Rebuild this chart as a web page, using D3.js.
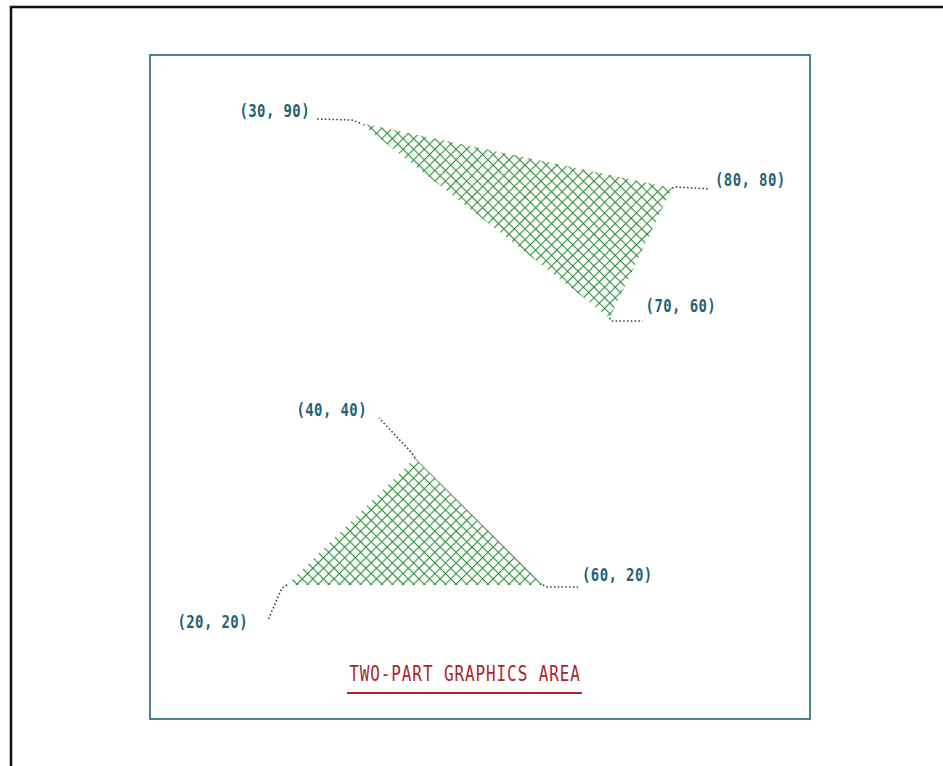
<!DOCTYPE html>
<html>
<head>
<meta charset="utf-8">
<script src="https://cdn.jsdelivr.net/npm/d3@7"></script>
<style>
body{margin:0;background:#fff;}
svg{display:block;}
</style>
</head>
<body>
<svg width="943" height="766"></svg>
<script>
// upper polygon vertices
var topX = [30, 80, 70];
var topY = [90, 80, 60];
// lower polygon vertices
var botX = [40, 60, 20];
var botY = [40, 20, 20];
var title = "TWO-PART GRAPHICS AREA";

var svg = d3.select("svg");
var teal = "#1f6274";
var green = "#2f8f3a";

// two viewports, one per part
var xTop = d3.scaleLinear().domain([30, 80]).range([360, 672]);
var yTop = d3.scaleLinear().domain([60, 90]).range([318, 123]);
var xBot = d3.scaleLinear().domain([20, 60]).range([287, 543]);
var yBot = d3.scaleLinear().domain([20, 40]).range([585, 458]);

// outer frame (runs off the page right and bottom)
svg.append("path")
	.attr("d", "M11,780 L11,7 L960,7")
	.attr("fill", "none")
	.attr("stroke", "#111")
	.attr("stroke-width", 2.5);

// inner frame
svg.append("rect")
	.attr("x", 150).attr("y", 55)
	.attr("width", 660).attr("height", 664)
	.attr("fill", "none")
	.attr("stroke", teal)
	.attr("stroke-width", 1.6);

// crosshatch
var pat = svg.append("defs").append("pattern")
	.attr("id", "hatch")
	.attr("patternUnits", "userSpaceOnUse")
	.attr("width", 7.5).attr("height", 7.5)
	.attr("patternTransform", "rotate(45)");
pat.append("line").attr("x1", 0).attr("y1", 0).attr("x2", 7.5).attr("y2", 0)
	.attr("stroke", green).attr("stroke-width", 2.2);
pat.append("line").attr("x1", 0).attr("y1", 0).attr("x2", 0).attr("y2", 7.5)
	.attr("stroke", green).attr("stroke-width", 2.2);

function polygon(xs, ys, sx, sy){
	var pts = xs.map(function(x, i){ return [sx(x), sy(ys[i])]; });
	svg.append("path")
		.attr("d", d3.line()(pts) + "Z")
		.attr("fill", "url(#hatch)")
		.attr("stroke", "none");
	return pts;
}
var pTop = polygon(topX, topY, xTop, yTop);
var pBot = polygon(botX, botY, xBot, yBot);

// leader lines (pixel offsets from vertex) and label anchors
var topLead = [
	[[0, 0], [-8, -3], [-44, -4]],
	[[0, 0], [5, -1], [38, 1]],
	[[0, 0], [2, 3], [33, 3]]
];
var topLab = [[-50, -12, "end"], [43, -8, "start"], [36, -12, "start"]];
var botLead = [
	[[0, 0], [-3, -5], [-36, -40]],
	[[0, 0], [4, 2], [35, 2]],
	[[0, 0], [-5, 3], [-19, 35]]
];
var botLab = [[-48, -48, "end"], [39, -10, "start"], [-39, 37, "end"]];

function labels(pts, xs, ys, lead, lab){
	pts.forEach(function(p, i){
		svg.append("path")
			.attr("d", d3.line()(lead[i].map(function(o){ return [p[0] + o[0], p[1] + o[1]]; })))
			.attr("fill", "none")
			.attr("stroke", "#333")
			.attr("stroke-width", 1.5)
			.attr("stroke-dasharray", "1.5,2.3");
		var tx = p[0] + lab[i][0], ty = p[1] + lab[i][1];
		svg.append("text")
			.attr("transform", "translate(" + tx + "," + ty + ") scale(1,1.25)")
			.attr("text-anchor", lab[i][2])
			.attr("dominant-baseline", "central")
			.attr("font-family", "DejaVu Sans Mono, monospace")
			.attr("font-size", 14)
			.attr("font-weight", "bold")
			.attr("letter-spacing", 0.4)
			.attr("fill", teal)
			.text("(" + xs[i] + ", " + ys[i] + ")");
	});
}
labels(pTop, topX, topY, topLead, topLab);
labels(pBot, botX, botY, botLead, botLab);

// title + underline
svg.append("text")
	.attr("transform", "translate(465,674) scale(1,1.3)")
	.attr("text-anchor", "middle")
	.attr("dominant-baseline", "central")
	.attr("font-family", "DejaVu Sans Mono, monospace")
	.attr("font-size", 16)
	.attr("letter-spacing", 0.9)
	.attr("fill", "#a8272b")
	.text(title);
svg.append("line")
	.attr("x1", 347).attr("x2", 582)
	.attr("y1", 693).attr("y2", 693)
	.attr("stroke", "#a8272b")
	.attr("stroke-width", 1.8);
</script>
</body>
</html>
